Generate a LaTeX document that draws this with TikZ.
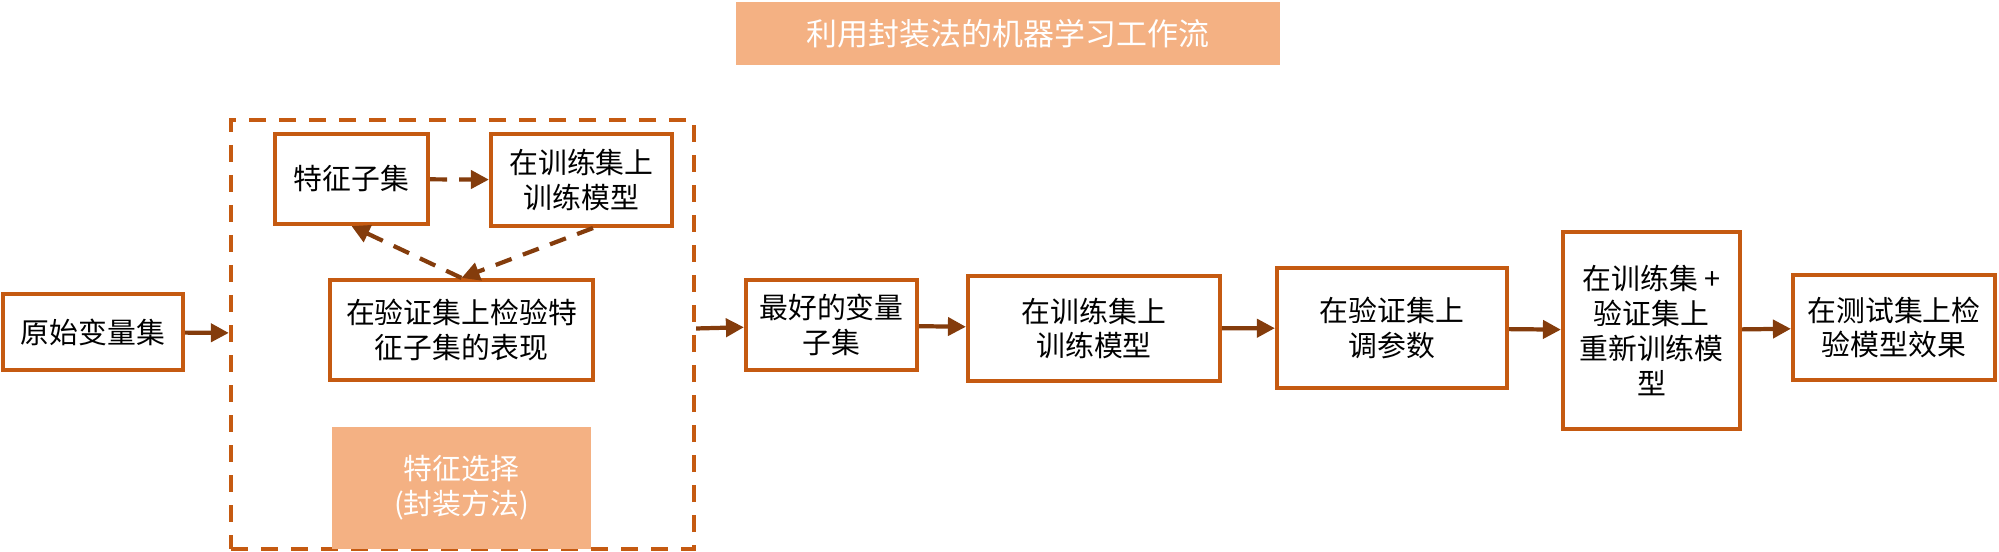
\documentclass[tikz,border=0pt]{standalone}
\usepackage{fontspec}
\setmainfont{Noto Sans CJK SC}
\usepackage{tikz}
\usetikzlibrary{arrows.meta}
\definecolor{boxline}{HTML}{C55A11}
\definecolor{arrowline}{HTML}{843C0C}
\definecolor{labelfill}{HTML}{F4B183}
\tikzset{x=0.01cm, y=-0.01cm, % One unit is one pixel of the reference, y grows downwards
stage/.style=
    { % Sets the properties for each step box
        draw=boxline,
        line width=1.15pt,
        fill=white,
        align=center,
        inner sep=0pt,
        font=\fontsize{8.2pt}{9.9pt}\selectfont
    },
    banner/.style={ % Filled boxes with white text
        fill=labelfill,
        text=white,
        align=center,
        inner sep=0pt,
        font=\fontsize{8.2pt}{9.9pt}\selectfont
    },
    wrapper/.style={ % Dashed frame round the feature selection loop
        draw=boxline,
        line width=1.15pt,
        dash pattern=on 0.17cm off 0.13cm
    },
    trial/.style={dash pattern=on 0.17cm off 0.12cm}, % Dashed connectors inside the frame
    every edge/.style={ % Sets the properties for each connector
        draw=arrowline,
        -{Triangle[length=0.18cm,width=0.18cm]}, % Filled triangular arrowheads
        line width=1.2pt
    }
}
\begin{document}
\begin{tikzpicture}
\useasboundingbox (0,0) rectangle (1999,552);
\node [banner,minimum width=5.44cm,minimum height=0.63cm,font=\fontsize{8.8pt}{10pt}\selectfont] (12) at (1008,33.5) {利用封装法的机器学习工作流};
\node [stage,minimum width=1.8cm,minimum height=0.76cm]  (1) at (93,332) {原始变量集};
\node [wrapper,minimum width=4.63cm,minimum height=4.29cm] (2) at (462.5,334.5) {};
\node [stage,minimum width=1.53cm,minimum height=0.9cm]  (3) at (351.5,179) {特征子集};
\node [stage,minimum width=1.81cm,minimum height=0.92cm] (4) at (581.5,180) {在训练集上\\训练模型};
\node [stage,minimum width=2.63cm,minimum height=1cm]    (5) at (461.5,330) {在验证集上检验特\\征子集的表现};
\node [banner,minimum width=2.59cm,minimum height=1.22cm] (6) at (461.5,488) {特征选择\\(封装方法)};
%%%%%%%%%%%%%%%%%%%%%%%%%%%%%%%%%%
\node [stage,minimum width=1.71cm,minimum height=0.9cm]  (7) at (831.5,325) {最好的变量\\子集};
\node [stage,minimum width=2.52cm,minimum height=1.05cm] (8) at (1094,328.5) {在训练集上\\训练模型};
\node [stage,minimum width=2.3cm,minimum height=1.2cm]   (9) at (1392,328) {在验证集上\\调参数};
\node [stage,minimum width=1.77cm,minimum height=1.97cm] (10) at (1651.5,330.5) {在训练集 +\\验证集上\\重新训练模\\型};
\node [stage,minimum width=2.02cm,minimum height=1.05cm] (11) at (1894,327.5) {在测试集上检\\验模型效果};

\draw
    (1) edge (2)
    (2) edge (7)
    
    (3) edge[trial] (4)
    ([xshift=0.115cm]4.south) edge[trial] (5.north)
    (5.north) edge[trial] (3.south)
%%%%%%%%%%%%%%%%%%%%%%%%%%%%%%%%%%
    (7) edge (8)
    (8) edge (9)
    (9) edge (10)
    (10) edge (11)
    ;
\end{tikzpicture}
\end{document}
